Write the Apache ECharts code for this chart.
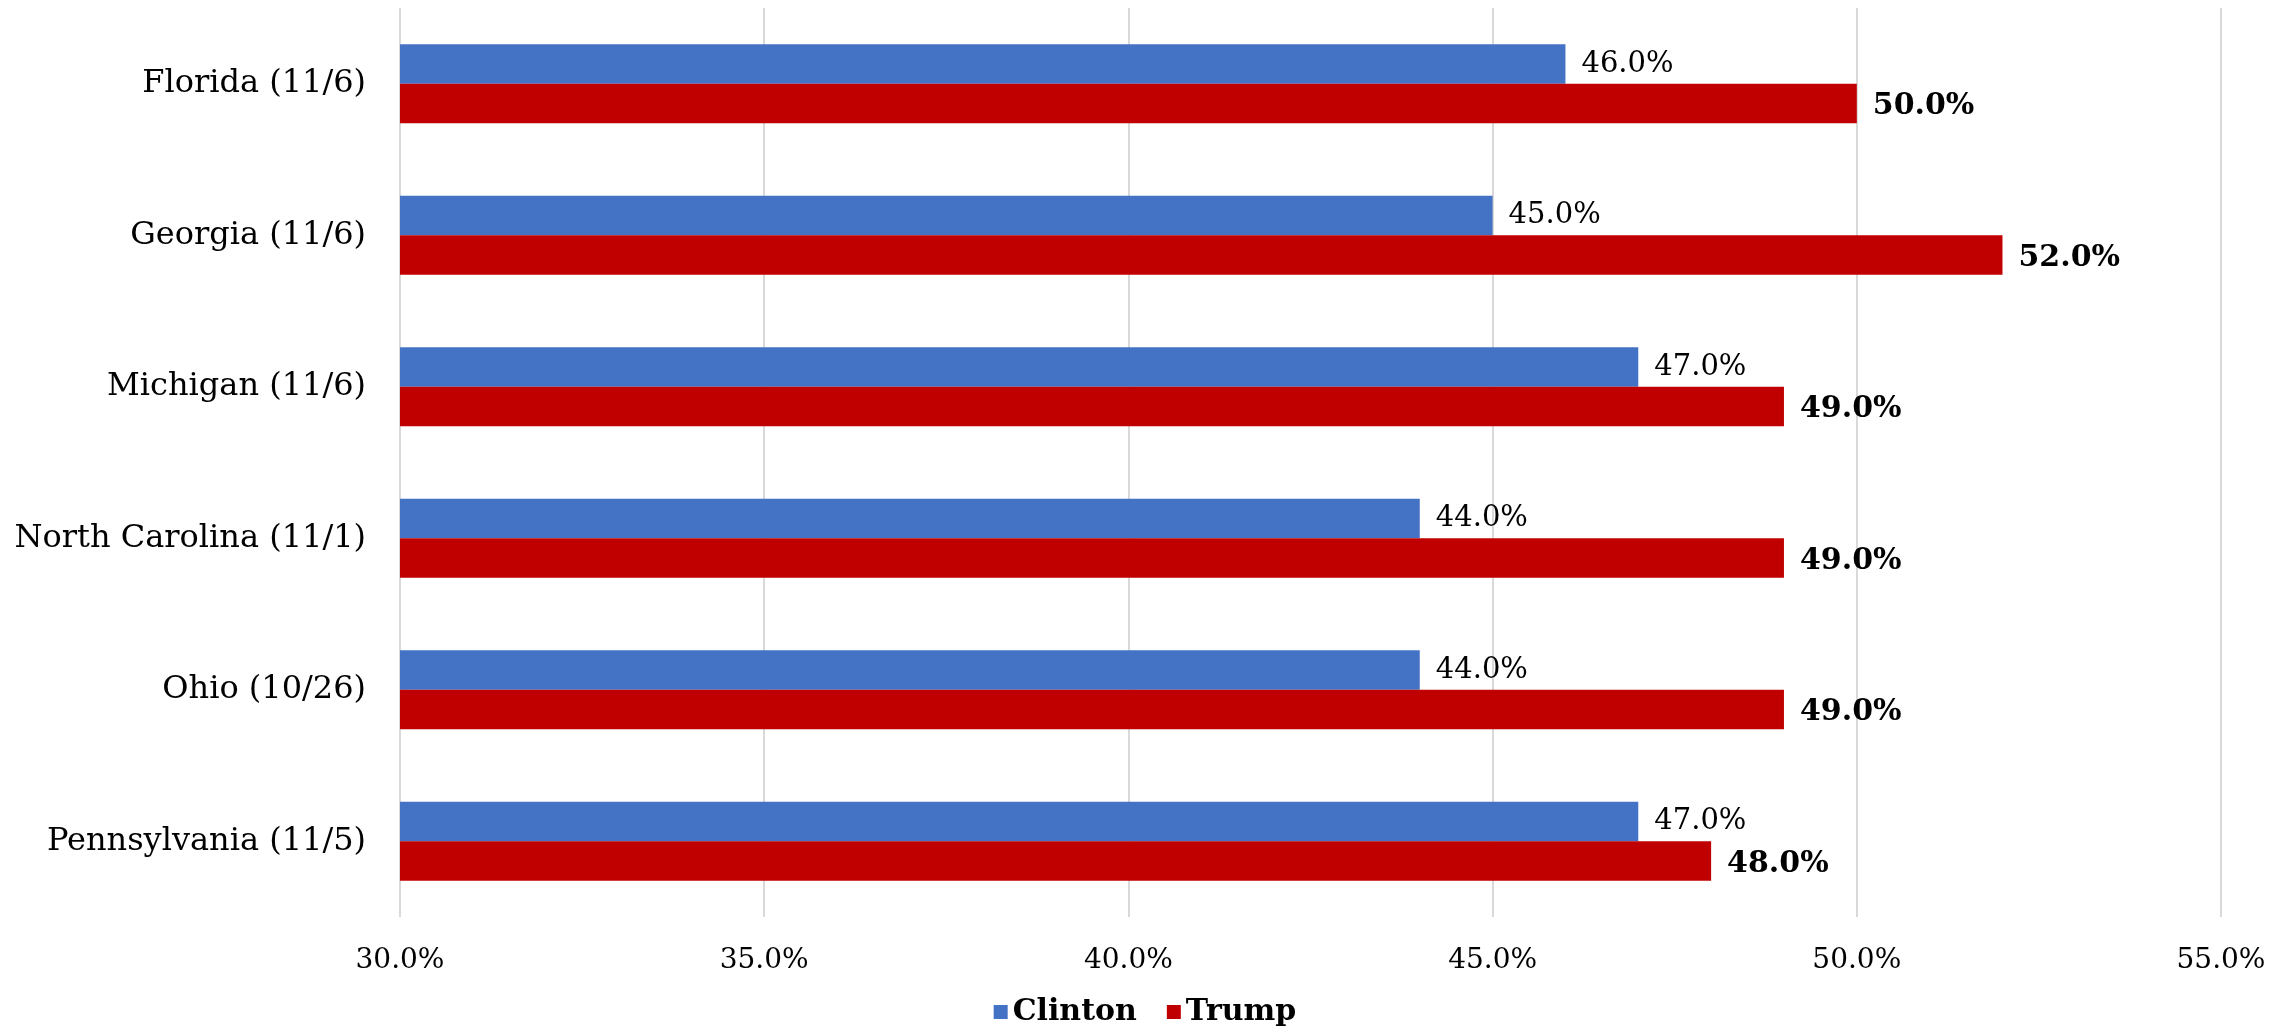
<!DOCTYPE html>
<html><head><meta charset="utf-8">
<script src="https://cdn.jsdelivr.net/npm/echarts@6/dist/echarts.min.js"></script>
<style>html,body{margin:0;padding:0;background:#fff}#c{width:2290px;height:1032px}</style>
</head><body><div id="c"></div>
<script>
const categories = ["Florida (11/6)", "Georgia (11/6)", "Michigan (11/6)", "North Carolina (11/1)", "Ohio (10/26)", "Pennsylvania (11/5)"];
const clinton = [46.0, 45.0, 47.0, 44.0, 44.0, 47.0];
const trump = [50.0, 52.0, 49.0, 49.0, 49.0, 48.0];
const xTicks = [30, 35, 40, 45, 50, 55];

const FONT = '"DejaVu Serif", serif';
const fmt = v => Number(v).toFixed(1) + '%';
const chart = echarts.init(document.getElementById('c'), null, {renderer: 'canvas'});
chart.setOption({
  animation: false,
  backgroundColor: '#fff',
  grid: {left: 400, right: 69, top: 8, bottom: 115, containLabel: false},
  legend: {
    data: ['Clinton', 'Trump'], bottom: 0, left: 'center', icon: 'rect',
    itemWidth: 14, itemHeight: 14, itemGap: 30,
    textStyle: {fontFamily: FONT, fontWeight: 'bold', fontSize: 30, color: '#000'}
  },
  xAxis: {
    type: 'value', min: xTicks[0], max: xTicks[xTicks.length - 1], interval: 5,
    axisLine: {show: false}, axisTick: {show: false},
    splitLine: {lineStyle: {color: '#D9D9D9', width: 2}},
    axisLabel: {formatter: fmt, fontFamily: FONT, fontSize: 28, color: '#000', margin: 30}
  },
  yAxis: {
    type: 'category', data: categories, inverse: true,
    axisLine: {show: false}, axisTick: {show: false},
    axisLabel: {fontFamily: FONT, fontSize: 32, color: '#000', margin: 34}
  },
  series: [
    {name: 'Clinton', type: 'bar', data: clinton, barGap: '0%', barCategoryGap: '48%',
     itemStyle: {color: '#4472C4'},
     label: {show: true, position: 'right', distance: 16, formatter: p => fmt(p.value),
             fontFamily: FONT, fontSize: 29, color: '#000'}},
    {name: 'Trump', type: 'bar', data: trump, barGap: '0%', barCategoryGap: '48%',
     itemStyle: {color: '#C00000'},
     label: {show: true, position: 'right', distance: 16, formatter: p => fmt(p.value),
             fontFamily: FONT, fontSize: 30, fontWeight: 'bold', color: '#000', offset: [0, 3]}}
  ]
});
</script></body></html>
